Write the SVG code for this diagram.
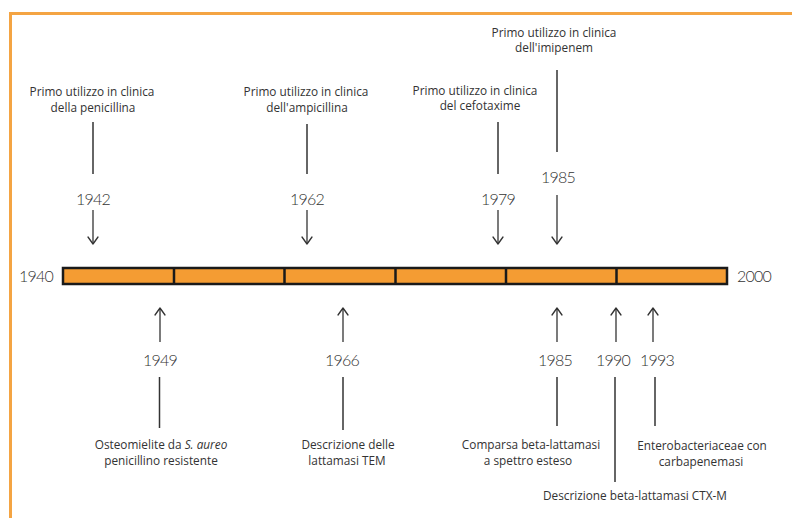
<svg xmlns="http://www.w3.org/2000/svg" width="792" height="518" viewBox="0 0 792 518">
<defs>
<style>
.lbl{font-family:"Open Sans","Liberation Sans",sans-serif;font-size:11.8px;fill:#333;text-anchor:middle}
.yr{font-family:"Lato","Open Sans","Liberation Sans",sans-serif;font-weight:300;font-size:16px;letter-spacing:-0.8px;fill:#333;text-anchor:middle}
.ln{stroke:#333;stroke-width:1.5;fill:none}
.ar{stroke:#333;stroke-width:1.3;fill:none}
.hd{stroke:#333;stroke-width:1.3;fill:none;stroke-linecap:round;stroke-linejoin:round}
</style>
</defs>
<rect width="792" height="518" fill="#fff"/>
<g id="frame">
<path d="M10.5 518 V13.5 H792" fill="none" stroke="#F4A443" stroke-width="3"/>
</g>
<g id="timeline">
<rect x="63" y="268" width="664" height="16" fill="#F49C33" stroke="#1a1a1a" stroke-width="2.5"/>
<g stroke="#1a1a1a" stroke-width="2.5">
<line x1="174" y1="268" x2="174" y2="284"/>
<line x1="284.5" y1="268" x2="284.5" y2="284"/>
<line x1="395.5" y1="268" x2="395.5" y2="284"/>
<line x1="506" y1="268" x2="506" y2="284"/>
<line x1="616.5" y1="268" x2="616.5" y2="284"/>
</g>
<text class="yr" x="36" y="282">1940</text>
<text class="yr" x="754" y="282">2000</text>
</g>
<g id="connectors">
<line class="ln" x1="93" y1="122" x2="93" y2="174"/>
<line class="ar" x1="93" y1="210" x2="93" y2="244"/><path class="hd" d="M88 237 L93 244 L98 237"/>
<line class="ln" x1="307" y1="124" x2="307" y2="174"/>
<line class="ar" x1="307" y1="210" x2="307" y2="244"/><path class="hd" d="M302 237 L307 244 L312 237"/>
<line class="ln" x1="498" y1="122" x2="498" y2="174"/>
<line class="ar" x1="498" y1="210" x2="498" y2="244"/><path class="hd" d="M493 237 L498 244 L503 237"/>
<line class="ln" x1="557" y1="70" x2="557" y2="152"/>
<line class="ar" x1="557" y1="195" x2="557" y2="244"/><path class="hd" d="M552 237 L557 244 L562 237"/>
<line class="ar" x1="160" y1="308" x2="160" y2="342"/><path class="hd" d="M155 315 L160 308 L165 315"/>
<line class="ln" x1="159.5" y1="377" x2="159.5" y2="428"/>
<line class="ar" x1="343" y1="308" x2="343" y2="342"/><path class="hd" d="M338 315 L343 308 L348 315"/>
<line class="ln" x1="343" y1="377" x2="343" y2="430"/>
<line class="ar" x1="557" y1="308" x2="557" y2="342"/><path class="hd" d="M552 315 L557 308 L562 315"/>
<line class="ln" x1="557" y1="377" x2="557" y2="426"/>
<line class="ar" x1="616" y1="308" x2="616" y2="342"/><path class="hd" d="M611 315 L616 308 L621 315"/>
<line class="ln" x1="615" y1="377" x2="615" y2="482"/>
<line class="ar" x1="653" y1="308" x2="653" y2="342"/><path class="hd" d="M648 315 L653 308 L658 315"/>
<line class="ln" x1="655" y1="377" x2="655" y2="426"/>
</g>
<g id="e1942">
<text class="lbl" x="92" y="96">Primo utilizzo in clinica</text>
<text class="lbl" x="93" y="112">della penicillina</text>
<text class="yr" x="93" y="205">1942</text>
</g>
<g id="e1962">
<text class="lbl" x="306" y="96">Primo utilizzo in clinica</text>
<text class="lbl" x="307" y="112">dell'ampicillina</text>
<text class="yr" x="307" y="205">1962</text>
</g>
<g id="e1979">
<text class="lbl" x="475" y="95">Primo utilizzo in clinica</text>
<text class="lbl" x="480" y="110">del cefotaxime</text>
<text class="yr" x="498" y="205">1979</text>
</g>
<g id="e1985top">
<text class="lbl" x="554" y="37">Primo utilizzo in clinica</text>
<text class="lbl" x="554" y="52">dell'imipenem</text>
<text class="yr" x="558" y="183">1985</text>
</g>
<g id="e1949">
<text class="yr" x="160" y="366">1949</text>
<text class="lbl" x="161" y="449">Osteomielite da <tspan font-style="italic">S. aureo</tspan></text>
<text class="lbl" x="161" y="465">penicillino resistente</text>
</g>
<g id="e1966">
<text class="yr" x="342" y="366">1966</text>
<text class="lbl" x="348" y="449">Descrizione delle</text>
<text class="lbl" x="347" y="465">lattamasi TEM</text>
</g>
<g id="e1985bottom">
<text class="yr" x="555" y="366">1985</text>
<text class="lbl" x="531" y="449">Comparsa beta-lattamasi</text>
<text class="lbl" x="528" y="465">a spettro esteso</text>
</g>
<g id="e1990">
<text class="yr" x="613" y="366">1990</text>
<text class="lbl" x="635" y="500">Descrizione beta-lattamasi CTX-M</text>
</g>
<g id="e1993">
<text class="yr" x="657" y="366">1993</text>
<text class="lbl" x="702" y="450">Enterobacteriaceae con</text>
<text class="lbl" x="701" y="466">carbapenemasi</text>
</g>
</svg>
